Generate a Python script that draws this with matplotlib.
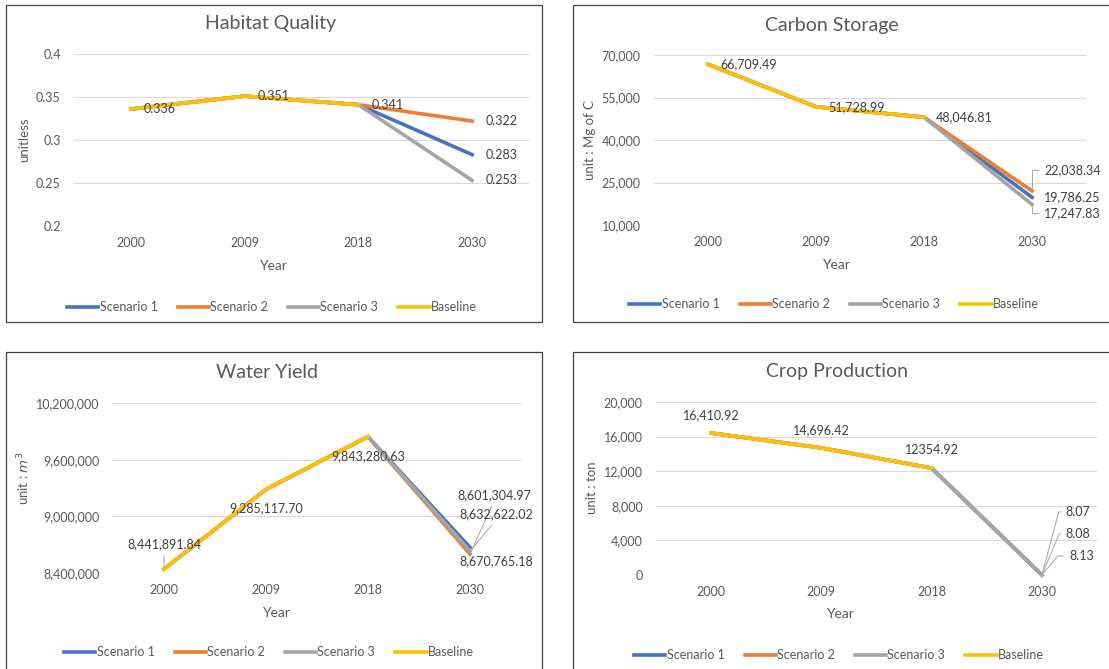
import numpy as np
import matplotlib.pyplot as plt
from matplotlib.patches import Rectangle
from matplotlib.ticker import FuncFormatter

plt.rcParams['font.family'] = ['Lato', 'DejaVu Sans']

# datos
years = ['2000', '2009', '2018', '2030']
names = ['Scenario 1', 'Scenario 2', 'Scenario 3', 'Baseline']
colors = ['#4472C4', '#ED7D31', '#A5A5A5', '#FFC000']
nan = np.nan

habitat_s1 = [0.336, 0.351, 0.341, 0.283]
habitat_s2 = [0.336, 0.351, 0.341, 0.322]
habitat_s3 = [0.336, 0.351, 0.341, 0.253]
habitat_base = [0.336, 0.351, 0.341, nan]

carbon_s1 = [66709.49, 51728.99, 48046.81, 19786.25]
carbon_s2 = [66709.49, 51728.99, 48046.81, 22038.34]
carbon_s3 = [66709.49, 51728.99, 48046.81, 17247.83]
carbon_base = [66709.49, 51728.99, 48046.81, nan]

water_s1 = [8441891.84, 9285117.70, 9843280.63, 8670765.18]
water_s2 = [8441891.84, 9285117.70, 9843280.63, 8601304.97]
water_s3 = [8441891.84, 9285117.70, 9843280.63, 8632622.02]
water_base = [8441891.84, 9285117.70, 9843280.63, nan]

crop_s1 = [16410.92, 14696.42, 12354.92, 8.07]
crop_s2 = [16410.92, 14696.42, 12354.92, 8.08]
crop_s3 = [16410.92, 14696.42, 12354.92, 8.13]
crop_base = [16410.92, 14696.42, 12354.92, nan]

W, H = 1109, 669
fig = plt.figure(figsize=(W / 100, H / 100), dpi=100)

TXT = '#595959'
LBL = '#404040'
LEAD = '#A6A6A6'


def fx(x):
    return x / W


def fy(y):
    return 1 - y / H


def panel(box, area, series, ylim, step, fmt, title, title_pos, ylabel, ylabel_pos, xlabel_pos, legend_pos):
    x0, y0, x1, y1 = box
    fig.add_artist(Rectangle((fx(x0), fy(y1)), (x1 - x0) / W, (y1 - y0) / H,
                             transform=fig.transFigure, fill=False, edgecolor='#404040', lw=0.9))
    ax = fig.add_axes([fx(area[0]), fy(area[3]), (area[2] - area[0]) / W, (area[3] - area[1]) / H])
    x = np.arange(len(years))
    for vals, name, c in zip(series, names, colors):
        ax.plot(x, vals, color=c, lw=2.6, label=name, solid_joinstyle='round', clip_on=False)
    ax.set_xlim(-0.5, 3.5)
    ax.set_ylim(*ylim)
    ax.set_yticks(np.arange(ylim[0], ylim[1] + step / 2, step))
    ax.yaxis.set_major_formatter(FuncFormatter(fmt))
    ax.set_xticks(x)
    ax.set_xticklabels(years)
    ax.grid(axis='y', color='#D9D9D9', lw=0.8)
    ax.set_axisbelow(True)
    for s in ax.spines.values():
        s.set_visible(False)
    ax.tick_params(length=0, labelsize=9, labelcolor=TXT)
    ax.tick_params(axis='y', pad=9.5)
    ax.tick_params(axis='x', pad=8)
    fig.text(fx(title_pos[0]), fy(title_pos[1]), title, ha='center', va='center', fontsize=14, color=TXT)
    fig.text(fx(ylabel_pos[0]), fy(ylabel_pos[1]), ylabel, ha='center', va='center', rotation=90,
             fontsize=9.5, color=TXT)
    fig.text(fx(xlabel_pos[0]), fy(xlabel_pos[1]), 'Year', ha='center', va='center', fontsize=10, color=TXT)
    ax.legend(loc='center', bbox_to_anchor=(fx(legend_pos[0]), fy(legend_pos[1])),
              bbox_transform=fig.transFigure, ncol=4, frameon=False, fontsize=9,
              handlelength=2.5, handletextpad=0.1, columnspacing=1.6, labelcolor=TXT)
    return ax


def put_label(ax, i, y, text, dx, dy, ha='left', va='center', lead=None):
    ap = None
    if lead is not None:
        ap = dict(arrowstyle='-', color=LEAD, lw=0.7, shrinkA=2, shrinkB=2, **lead)
    ax.annotate(text, (i, y), xytext=(dx, dy), textcoords='offset pixels', ha=ha, va=va,
                fontsize=9, color=LBL, arrowprops=ap, annotation_clip=False)


straight = dict(relpos=(0.5, 0))


def bent(angle):
    return dict(relpos=(0, 0.5), connectionstyle=f'angle,angleA=0,angleB={angle},rad=0')


# Habitat Quality
ax1 = panel((6, 5, 542, 322), (74, 54, 529, 226),
            [habitat_s1, habitat_s2, habitat_s3, habitat_base], (0.2, 0.4), 0.05,
            lambda v, _: f'{round(v, 3):g}', 'Habitat Quality', (271, 23),
            'unitless', (24, 140), (273, 266), (272, 307))
for j in range(3):
    put_label(ax1, j, habitat_base[j], f'{habitat_base[j]:.3f}', 13, 0)
for s in (habitat_s1, habitat_s2, habitat_s3):
    put_label(ax1, 3, s[3], f'{s[3]:.3f}', 13, 0)

# Carbon Storage
ax2 = panel((573, 5, 1120, 322), (654, 55, 1086, 225),
            [carbon_s1, carbon_s2, carbon_s3, carbon_base], (10000, 70000), 15000,
            lambda v, _: f'{v:,.0f}', 'Carbon Storage', (832, 25),
            'unit : Mg of C', (590, 140), (836, 265), (834, 304))
for j in range(3):
    put_label(ax2, j, carbon_base[j], f'{carbon_base[j]:,.2f}', 12, 0)
put_label(ax2, 3, carbon_s2[3], f'{carbon_s2[3]:,.2f}', 12, 21, lead=bent(90))
put_label(ax2, 3, carbon_s1[3], f'{carbon_s1[3]:,.2f}', 12, 0)
put_label(ax2, 3, carbon_s3[3], f'{carbon_s3[3]:,.2f}', 12, -8.5, lead=bent(90))

# Water Yield
ax3 = panel((6, 352, 542, 680), (113, 403, 521, 573),
            [water_s1, water_s2, water_s3, water_base], (8400000, 10200000), 600000,
            lambda v, _: f'{v:,.0f}', 'Water Yield', (267, 372),
            r'unit : $m^3$', (24, 478), (276, 613), (269, 652))
put_label(ax3, 0, water_base[0], f'{water_base[0]:,.2f}', 0, 25, ha='center', lead=straight)
put_label(ax3, 1, water_base[1], f'{water_base[1]:,.2f}', 0, -19, ha='center')
put_label(ax3, 2, water_base[2], f'{water_base[2]:,.2f}', 0, -19, ha='center')
put_label(ax3, 3, water_s2[3], f'{water_s2[3]:,.2f}', 24, 59, ha='center', lead=straight)
put_label(ax3, 3, water_s3[3], f'{water_s3[3]:,.2f}', 26, 37, ha='center', lead=straight)
put_label(ax3, 3, water_s1[3], f'{water_s1[3]:,.2f}', 26, -14, ha='center')

# Crop Production
ax4 = panel((573, 352, 1120, 680), (656, 402, 1097, 575),
            [crop_s1, crop_s2, crop_s3, crop_base], (0, 20000), 4000,
            lambda v, _: f'{v:,.0f}', 'Crop Production', (837, 371),
            'unit : ton', (592, 488), (840, 614), (839, 655))
put_label(ax4, 0, crop_base[0], f'{crop_base[0]:,.2f}', 0, 18, ha='center')
put_label(ax4, 1, crop_base[1], f'{crop_base[1]:,.2f}', 0, 18, ha='center')
put_label(ax4, 2, crop_base[2], f'{crop_base[2]:.2f}', 0, 18, ha='center')
put_label(ax4, 3, crop_s1[3], f'{crop_s1[3]:.2f}', 24, 63, lead=bent(75))
put_label(ax4, 3, crop_s2[3], f'{crop_s2[3]:.2f}', 24, 41, lead=bent(67))
put_label(ax4, 3, crop_s3[3], f'{crop_s3[3]:.2f}', 27, 19, lead=bent(50))

fig.savefig('out.png', dpi=100)
